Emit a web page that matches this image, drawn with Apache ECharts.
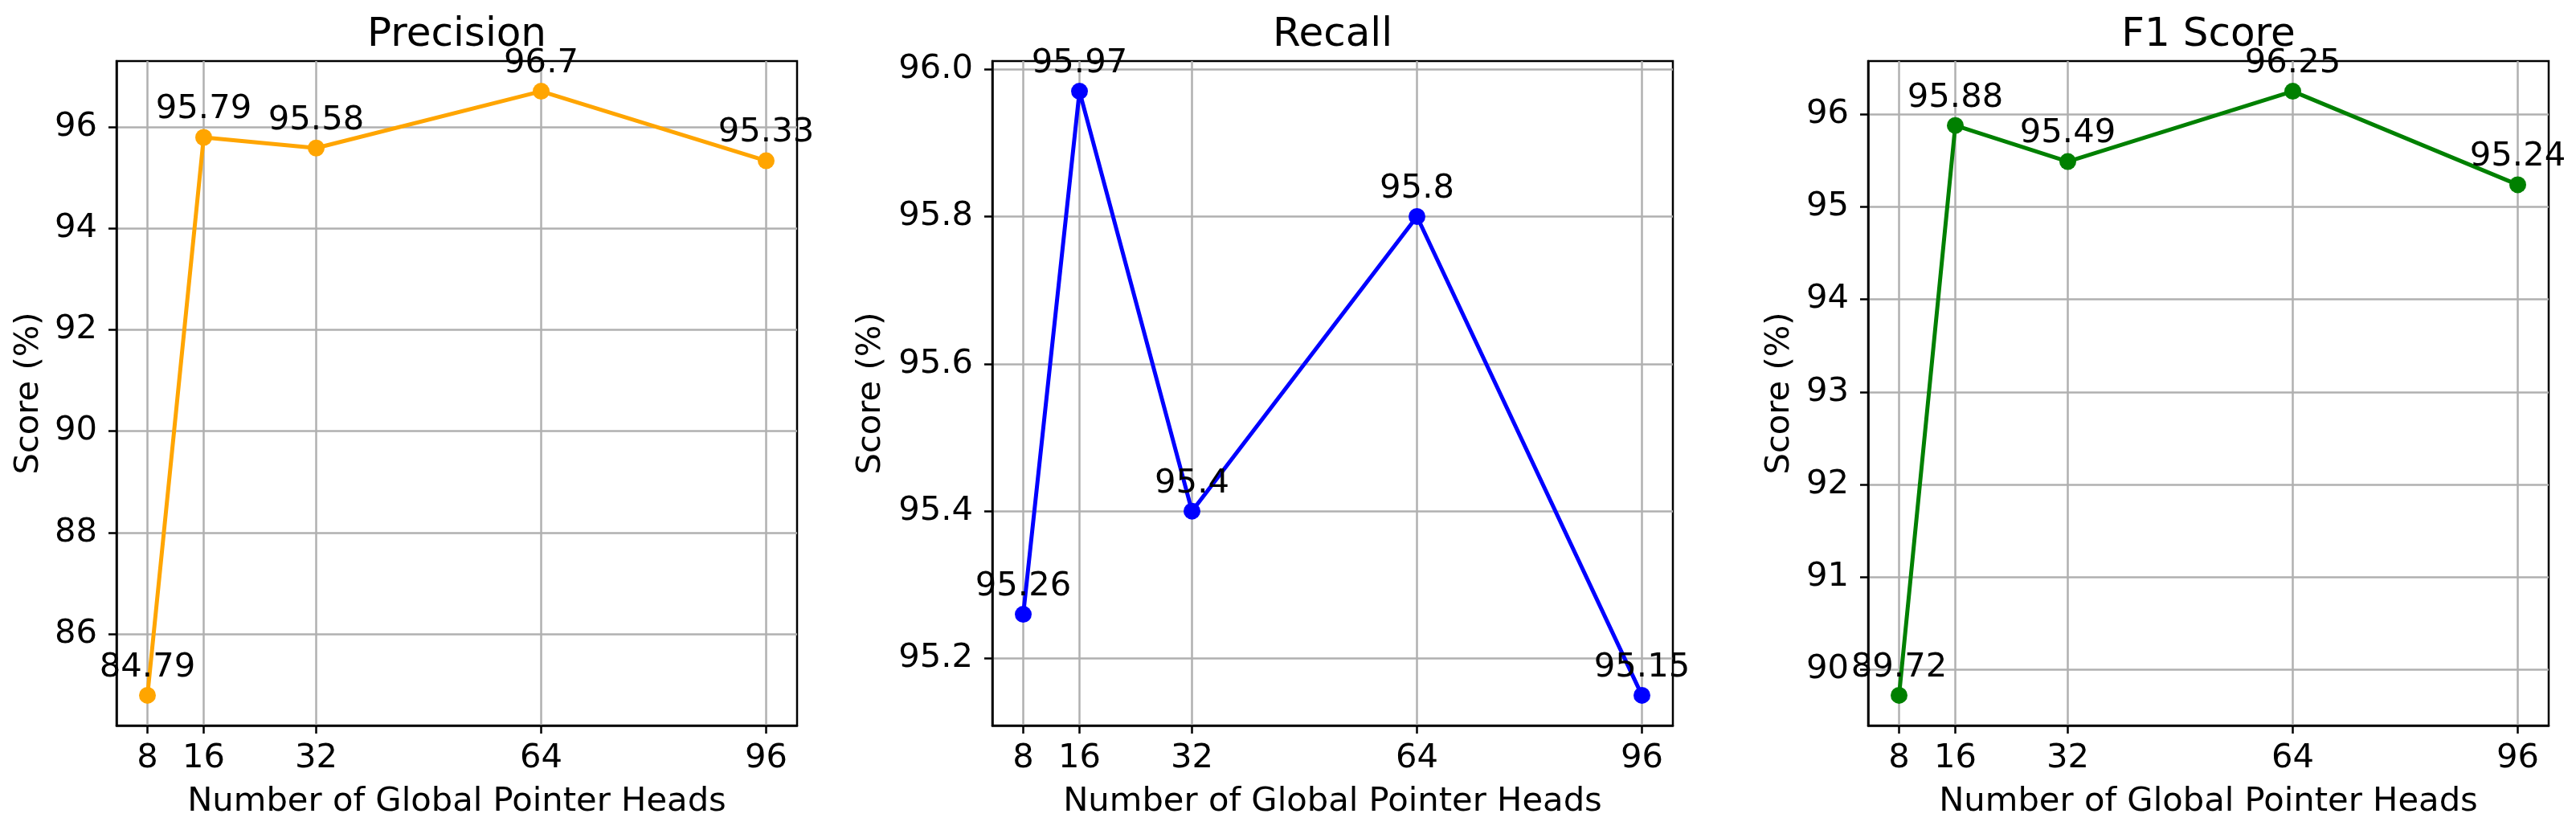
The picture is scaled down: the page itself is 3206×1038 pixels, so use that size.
<!DOCTYPE html>
<html>
<head>
<meta charset="utf-8">
<title>Global Pointer Heads</title>
<script src="https://cdn.jsdelivr.net/npm/echarts@6/dist/echarts.min.js"></script>
<style>
	body { margin: 0; background: #fff; }
</style>
</head>
<body>
<div id="main" style="width: 3206px;height: 1038px;"></div>
<script type="text/javascript">
	// number of heads on the x axis
	var heads = [8, 16, 32, 64, 96];
	var precision = [84.79, 95.79, 95.58, 96.7, 95.33];
	var recall = [95.26, 95.97, 95.4, 95.8, 95.15];
	var f1 = [89.72, 95.88, 95.49, 96.25, 95.24];
	// tick labels on the y axes
	var precisionTicks = [86, 88, 90, 92, 94, 96];
	var recallTicks = [95.2, 95.4, 95.6, 95.8, 96.0];
	var f1Ticks = [90, 91, 92, 93, 94, 95, 96];

	var myChart = echarts.init(document.getElementById('main'));
	var font = 'DejaVu Sans';
	var fs = 41.7;

	// panels: title, values, colour, y ticks, left edge, y name gap, label digits
	var panels = [
		{title: 'Precision', data: precision, color: '#ffa500', ticks: precisionTicks, left: 145, gap: 88, digits: 0},
		{title: 'Recall', data: recall, color: '#0000ff', ticks: recallTicks, left: 1235, gap: 130, digits: 1},
		{title: 'F1 Score', data: f1, color: '#008000', ticks: f1Ticks, left: 2325, gap: 89, digits: 0}
	];
	var W = 847, TOP = 76, H = 827;

	// matplotlib style 5% margins
	function pad(lo, hi) {
		var d = (hi - lo) * 0.05;
		return [lo - d, hi + d];
	}
	var xr = pad(Math.min.apply(null, heads), Math.max.apply(null, heads));

	var option = {
		animation: false,
		backgroundColor: '#fff',
		textStyle: {fontFamily: font, color: '#000'},
		title: [], grid: [], xAxis: [], yAxis: [], series: []
	};

	panels.forEach(function (p, i) {
		var yr = pad(Math.min.apply(null, p.data), Math.max.apply(null, p.data));
		option.title.push({
			text: p.title,
			left: p.left + W / 2,
			textAlign: 'center',
			top: 19,
			padding: 0,
			textStyle: {fontFamily: font, fontSize: 50, fontWeight: 'normal', color: '#000'}
		});
		option.grid.push({
			left: p.left, top: TOP, width: W, height: H,
			show: true, borderColor: '#000', borderWidth: 2.5, backgroundColor: 'transparent'
		});
		option.xAxis.push({
			type: 'value',
			gridIndex: i,
			min: xr[0],
			max: xr[1],
			name: 'Number of Global Pointer Heads',
			nameLocation: 'middle',
			nameGap: 74,
			nameTextStyle: {fontFamily: font, fontSize: fs, color: '#000'},
			axisLine: {show: true, onZero: false, lineStyle: {color: '#000', width: 2.5}},
			axisTick: {show: true, length: 10, customValues: heads, lineStyle: {color: '#000', width: 2.5}},
			axisLabel: {customValues: heads, margin: 20, fontFamily: font, fontSize: fs, color: '#000'},
			splitLine: {show: true, lineStyle: {color: '#b0b0b0', width: 2.5}}
		});
		option.yAxis.push({
			type: 'value',
			gridIndex: i,
			min: yr[0],
			max: yr[1],
			name: 'Score (%)',
			nameLocation: 'middle',
			nameRotate: 90,
			nameGap: p.gap,
			nameTextStyle: {fontFamily: font, fontSize: fs, color: '#000'},
			axisLine: {show: true, onZero: false, lineStyle: {color: '#000', width: 2.5}},
			axisTick: {show: true, length: 10, customValues: p.ticks, lineStyle: {color: '#000', width: 2.5}},
			axisLabel: {
				customValues: p.ticks, margin: 24, fontFamily: font, fontSize: fs, color: '#000',
				formatter: function (v) { return v.toFixed(p.digits); }
			},
			splitLine: {show: true, lineStyle: {color: '#b0b0b0', width: 2.5}}
		});
		option.series.push({
			type: 'line',
			xAxisIndex: i,
			yAxisIndex: i,
			data: heads.map(function (h, k) { return [h, p.data[k]]; }),
			symbol: 'circle',
			symbolSize: 21,
			itemStyle: {color: p.color},
			lineStyle: {color: p.color, width: 5},
			label: {
				show: true,
				position: 'top',
				distance: 3,
				fontFamily: font,
				fontSize: fs,
				color: '#000',
				formatter: function (q) { return String(q.value[1]); }
			}
		});
	});

	myChart.setOption(option);
</script>
</body>
</html>
